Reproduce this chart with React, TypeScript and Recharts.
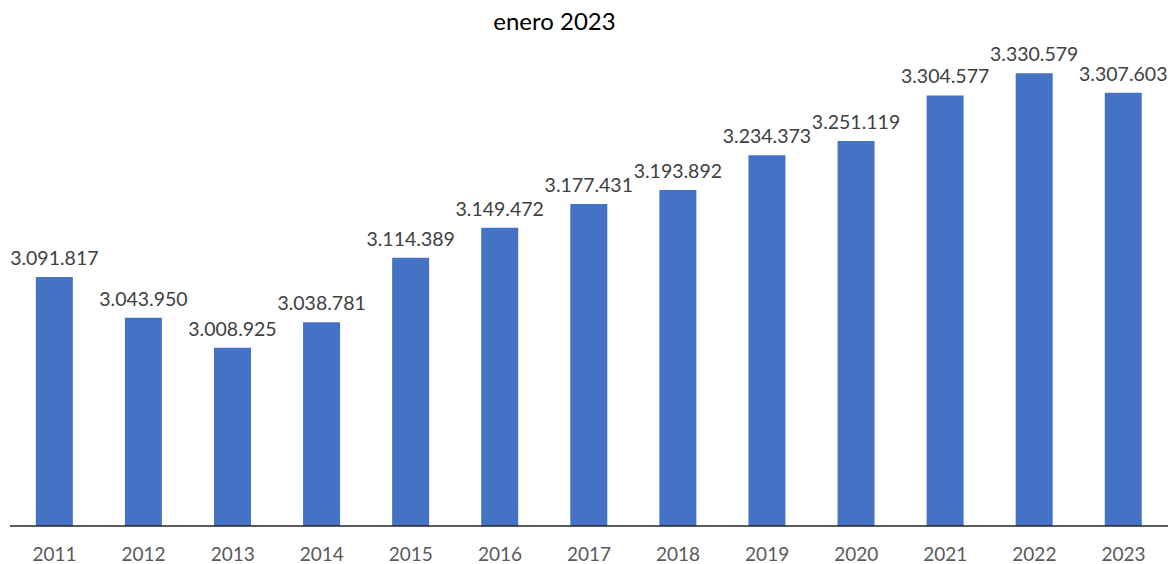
import React from "react";
import { BarChart, Bar, XAxis, YAxis, LabelList } from "recharts";

const years = ["2011", "2012", "2013", "2014", "2015", "2016", "2017", "2018", "2019", "2020", "2021", "2022", "2023"];
const afiliados = [3091817, 3043950, 3008925, 3038781, 3114389, 3149472, 3177431, 3193892, 3234373, 3251119, 3304577, 3330579, 3307603];

const data = years.map((year, i) => ({ year, value: afiliados[i] }));

// thousands with dots, like the original
const fmt = (v: number) => String(v).replace(/\B(?=(\d{3})+(?!\d))/g, ".");

const FONT = "Lato, 'Open Sans', sans-serif";

export default function App() {
  return (
    <div style={{ position: "absolute", left: 0, top: 0, width: 1173, height: 564, background: "#fff" }}>
      <div
        style={{
          position: "absolute",
          left: 0,
          width: 1173,
          top: 6,
          textAlign: "center",
          fontFamily: FONT,
          fontSize: 24,
          color: "#000",
          paddingRight: 64,
          boxSizing: "border-box",
        }}
      >
        enero 2023
      </div>
      <BarChart
        width={1173}
        height={564}
        data={data}
        margin={{ top: 14, right: 5, left: 10, bottom: 8 }}
        barCategoryGap="29%"
      >
        <XAxis
          dataKey="year"
          height={30}
          tickLine={false}
          axisLine={{ stroke: "#262626", strokeWidth: 1.5 }}
          tick={{ fill: "#595959", fontSize: 19, fontFamily: FONT }}
          tickMargin={16}
          interval={0}
        />
        <YAxis hide domain={[2800000, 3400000]} />
        <Bar dataKey="value" fill="#4472C4" isAnimationActive={false}>
          <LabelList
            dataKey="value"
            position="top"
            offset={12}
            formatter={(v: any) => fmt(Number(v))}
            style={{ fill: "#404040", fontSize: 19.5, fontFamily: FONT }}
          />
        </Bar>
      </BarChart>
    </div>
  );
}
